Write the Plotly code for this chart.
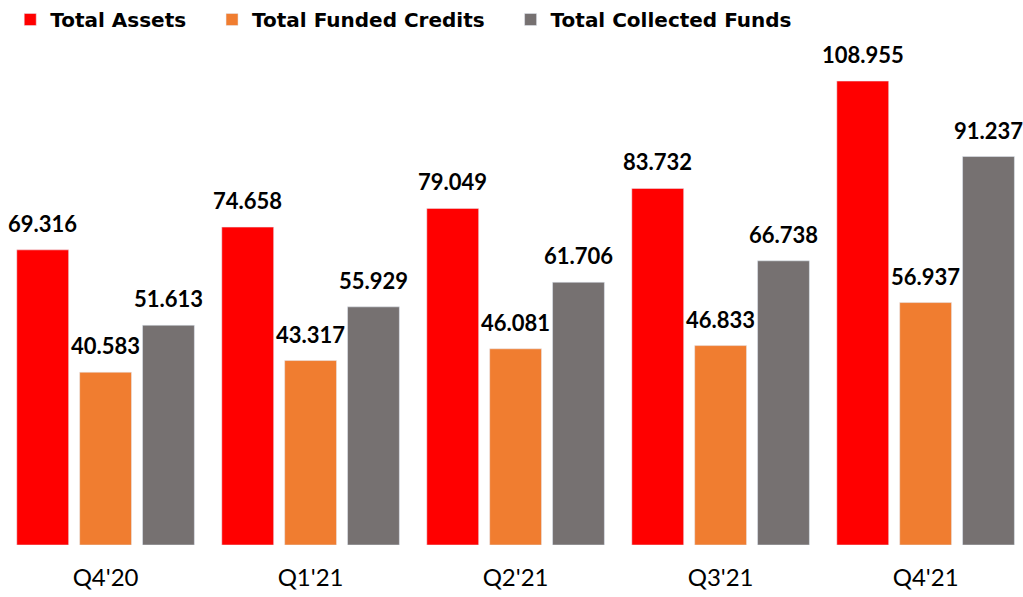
import plotly.graph_objects as go

quarters = ["Q4'20", "Q1'21", "Q2'21", "Q3'21", "Q4'21"]
total_assets = [69.316, 74.658, 79.049, 83.732, 108.955]
funded_credits = [40.583, 43.317, 46.081, 46.833, 56.937]
collected_funds = [51.613, 55.929, 61.706, 66.738, 91.237]

series = [
    ("Total Assets" + "\u00a0" * 3, total_assets, "#FF0000", -63),
    ("Total Funded Credits" + "\u00a0" * 3, funded_credits, "#F07D30", 0),
    ("Total Collected Funds", collected_funds, "#767171", 63),
]

fig = go.Figure()
annotations = []
for name, vals, color, shift in series:
    fig.add_trace(go.Bar(x=quarters, y=vals, name=name, marker_color=color))
    for q, v in zip(quarters, vals):
        annotations.append(dict(
            x=q, y=v, text=f"{v:.3f}", showarrow=False,
            xshift=shift, yshift=11, yanchor="bottom",
            font=dict(family="Lato", size=22, color="black", weight="bold"),
        ))

fig.update_layout(
    width=1023, height=597,
    margin=dict(l=0, r=0, t=0, b=52),
    plot_bgcolor="white", paper_bgcolor="white",
    barmode="group", bargap=0.08, bargroupgap=0.175,
    annotations=annotations,
    legend=dict(
        orientation="h", x=0.01, y=1.0, xanchor="left", yanchor="top",
        font=dict(family="DejaVu Sans", size=20, color="black", weight="bold"),
        itemwidth=30, traceorder="normal",
    ),
    xaxis=dict(
        range=[-0.515, 4.475], showgrid=False, showline=False,
        ticks="", ticklabelstandoff=16, automargin=False,
        tickfont=dict(family="Lato", size=24, color="black"),
    ),
    yaxis=dict(range=[0, 128], visible=False, automargin=False),
)

# drop the browser's default page margin so the figure sits at the top-left
fig.write_html(
    "out.html",
    config={"displayModeBar": False},
    post_script="document.body.style.margin='0';",
)
